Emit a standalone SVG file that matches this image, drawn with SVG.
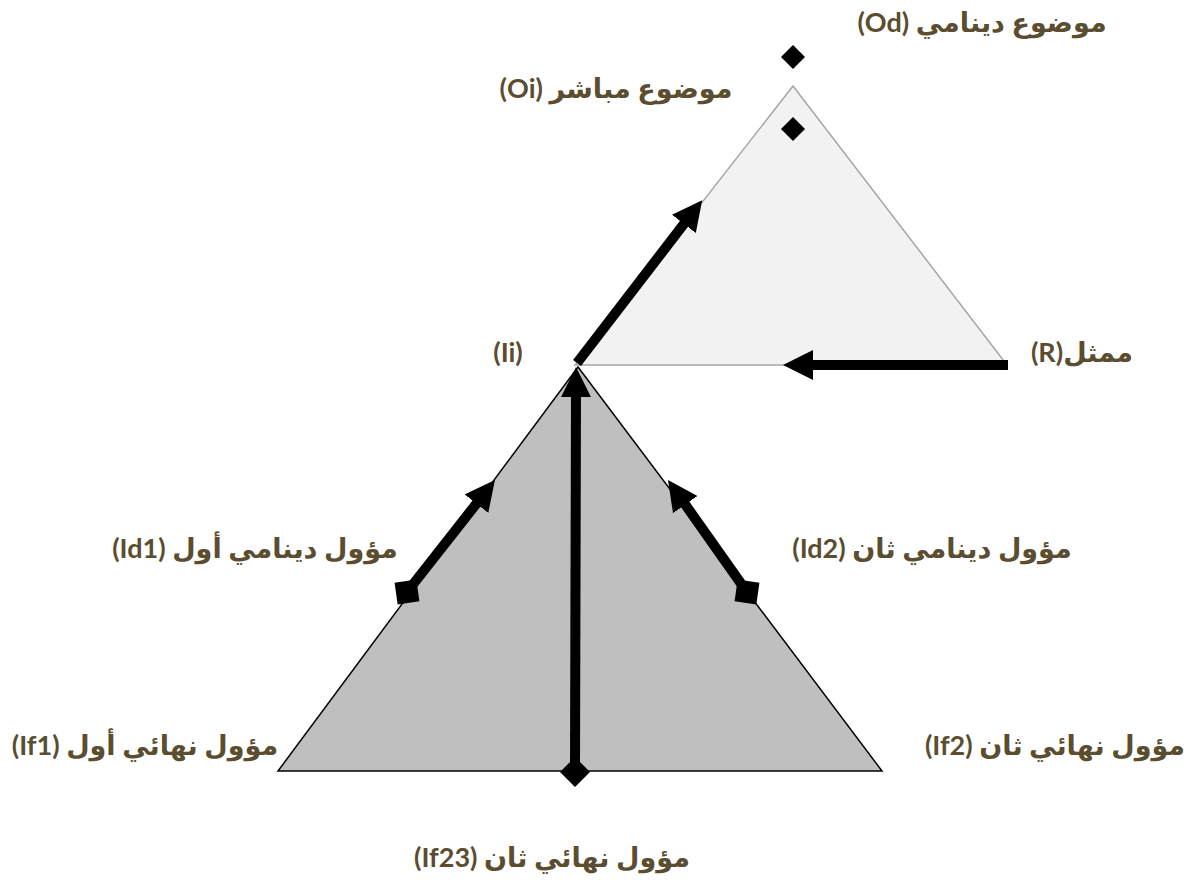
<svg xmlns="http://www.w3.org/2000/svg" width="1189" height="884" viewBox="0 0 1189 884">
<style>
.lbl{font-family:"Lato","DejaVu Sans",sans-serif;font-weight:bold;font-size:27px;fill:#5a4d30;text-anchor:middle}
.ar{direction:rtl;unicode-bidi:embed}
.conn{stroke:#000;stroke-width:10;fill:none}
.dot{fill:#000}
</style>
<defs>
<marker id="head" viewBox="0 0 30 30" refX="10" refY="15" markerWidth="30" markerHeight="30" markerUnits="userSpaceOnUse" orient="auto">
<path d="M0,0 L30,15 L0,30 z" fill="#000"/>
</marker>
<marker id="dia" viewBox="-16 -16 32 32" refX="0" refY="0" markerWidth="32" markerHeight="32" markerUnits="userSpaceOnUse" orient="0">
<path d="M0,-15 L15,0 L0,15 L-15,0 z" fill="#000"/>
</marker>
<marker id="sqL" viewBox="-13 -13 26 26" refX="0" refY="0" markerWidth="26" markerHeight="26" markerUnits="userSpaceOnUse" orient="-8">
<rect x="-11" y="-11" width="22" height="22" fill="#000"/>
</marker>
<marker id="sqR" viewBox="-13 -13 26 26" refX="0" refY="0" markerWidth="26" markerHeight="26" markerUnits="userSpaceOnUse" orient="8">
<rect x="-11" y="-11" width="22" height="22" fill="#000"/>
</marker>
</defs>
<g id="object-triangle">
<polygon points="793,86 1007,365 575,365" fill="#f2f2f2" stroke="#a6a6a6" stroke-width="1.5"/>
</g>
<g id="interpretant-triangle">
<polygon points="578,367 882,771 278,771" fill="#bfbfbf" stroke="#000" stroke-width="1.5"/>
</g>
<g id="Od"><path class="dot" d="M793,45 L805,57 L793,69 L781,57 z"/>
<text class="lbl ar" x="982" y="32">موضوع دينامي (Od)</text></g>
<g id="Oi"><path class="dot" d="M793,117 L805,129 L793,141 L781,129 z"/>
<text class="lbl ar" x="616" y="98">موضوع مباشر (Oi)</text></g>
<g id="R"><text class="lbl ar" x="1082" y="362">ممثل(R)</text></g>
<g id="Ii"><text class="lbl" x="508" y="362">(Ii)</text></g>
<g id="Id1"><text class="lbl ar" x="255" y="558">مؤول دينامي أول (Id1)</text></g>
<g id="Id2"><text class="lbl ar" x="932" y="558">مؤول دينامي ثان (Id2)</text></g>
<g id="If1"><text class="lbl ar" x="145" y="755">مؤول نهائي أول (If1)</text></g>
<g id="If2"><text class="lbl ar" x="1055" y="755">مؤول نهائي ثان (If2)</text></g>
<g id="If23"><text class="lbl ar" x="552" y="867">مؤول نهائي ثان (If23)</text></g>
<g id="connectors">
<line class="conn" x1="575" y1="772" x2="576" y2="387" marker-start="url(#dia)" marker-end="url(#head)"/>
<line class="conn" x1="577" y1="363" x2="690" y2="216" marker-end="url(#head)"/>
<line class="conn" x1="1008" y1="365" x2="803" y2="365" marker-end="url(#head)"/>
<line class="conn" x1="407" y1="592" x2="482.6" y2="495.8" marker-start="url(#sqL)" marker-end="url(#head)"/>
<line class="conn" x1="747" y1="592" x2="679.5" y2="496.4" marker-start="url(#sqR)" marker-end="url(#head)"/>
</g>
</svg>
